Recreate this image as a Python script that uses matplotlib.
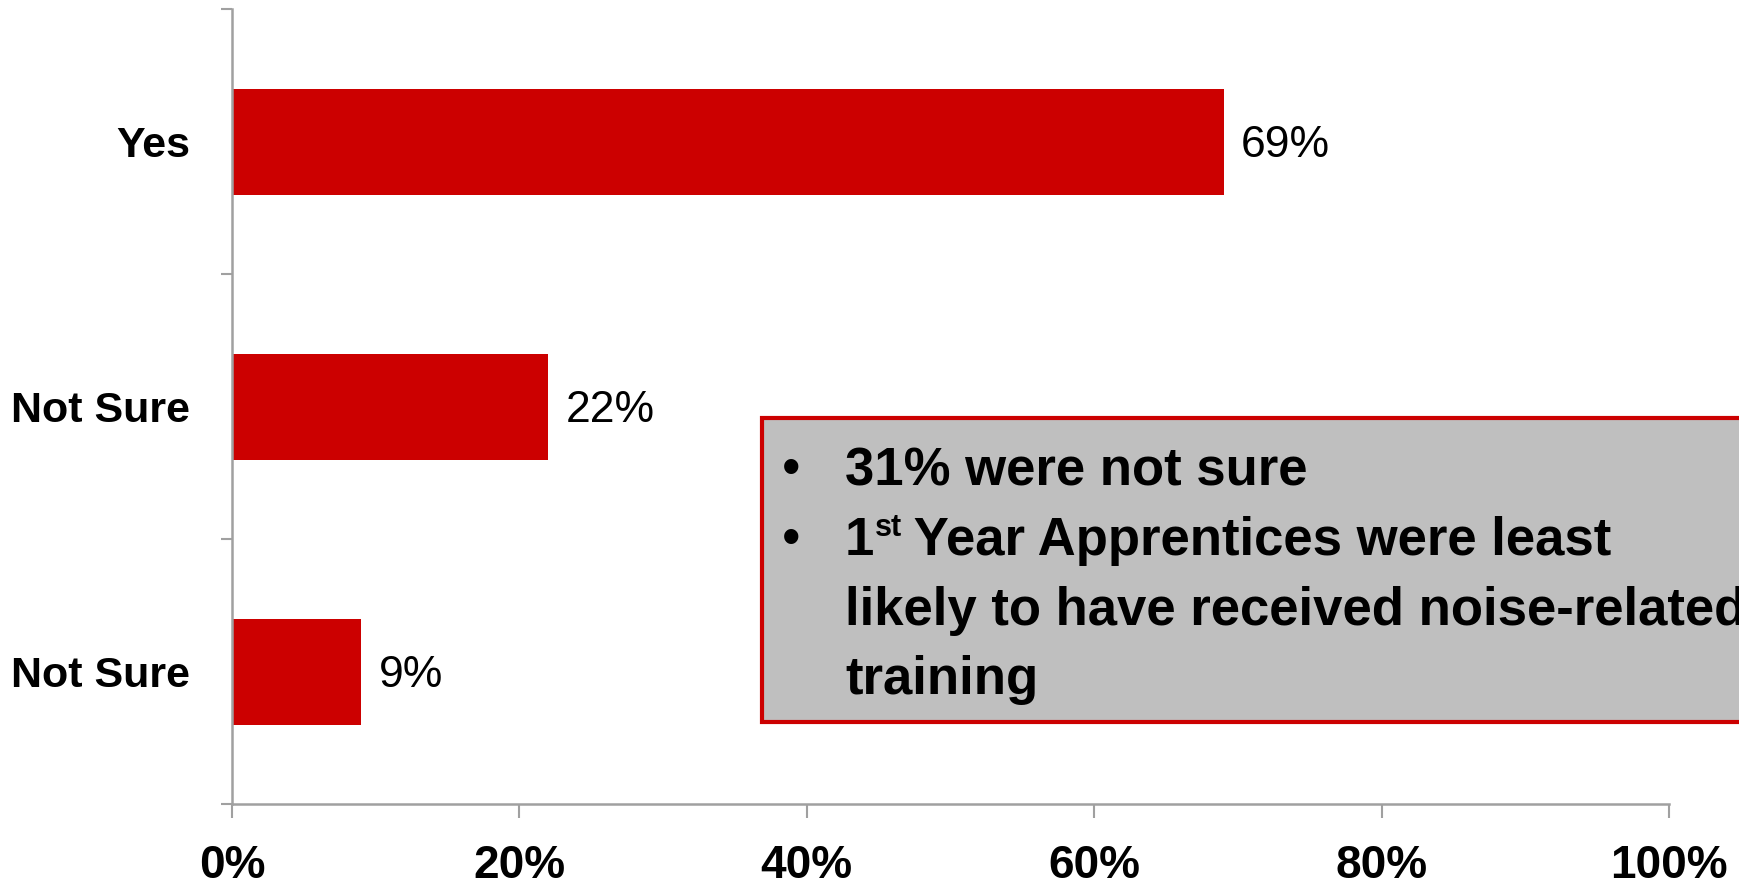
import matplotlib.pyplot as plt
from matplotlib.patches import Rectangle

# survey answers (percent)
answers = ['Yes', 'Not Sure', 'Not Sure']
shares = [69, 22, 9]
xticks = [0, 20, 40, 60, 80, 100]
xtick_labels = ['0%', '20%', '40%', '60%', '80%', '100%']
notes = ['31% were not sure',
         'Year Apprentices were least',
         'likely to have received noise-related',
         'training']

plt.rcParams['font.family'] = ['Liberation Sans', 'DejaVu Sans']

red = '#cc0000'
grey = '#a0a0a0'
W, H = 1739, 882

fig = plt.figure(figsize=(W / 100, H / 100), dpi=100)
ax = fig.add_axes([232 / W, 1 - 804 / H, (1669 - 232) / W, (804 - 9) / H])

pos = list(range(len(answers)))
ax.barh(pos, shares, height=0.4, color=red)
for p, v in zip(pos, shares):
    ax.text(v + 1.2, p + 0.014, f'{v}%', va='center', ha='left', fontsize=32)

ax.set_xlim(0, 100)
ax.set_ylim(2.5, -0.5)
ax.set_xticks(xticks)
ax.set_xticklabels(xtick_labels, fontsize=33, fontweight='bold')
ax.set_yticks([-0.5, 0.5, 1.5, 2.5])
ax.set_yticklabels([])
ax.set_yticks(pos, minor=True)
ax.set_yticklabels(answers, minor=True, fontsize=31, fontweight='bold')
ax.tick_params(axis='y', which='minor', length=0, pad=30)
ax.tick_params(axis='y', which='major', length=8, width=1.5, color=grey)
ax.tick_params(axis='x', length=10, width=1.5, color=grey, pad=19)

for side in ['top', 'right']:
    ax.spines[side].set_visible(False)
for side in ['left', 'bottom']:
    ax.spines[side].set_color(grey)
    ax.spines[side].set_linewidth(1.8)

# grey note box running off the right edge
box = Rectangle((762 / W, 1 - 722 / H), (1800 - 762) / W, (722 - 418) / H,
                transform=fig.transFigure, facecolor='#bfbfbf',
                edgecolor=red, linewidth=3, clip_on=False)
fig.add_artist(box)

fs = 38
x_bullet, x_text = 782 / W, 845 / W
base = [485, 555, 625, 694]
fig.text(x_bullet, 1 - base[0] / H, '•', fontsize=fs, va='baseline')
fig.text(x_bullet, 1 - base[1] / H, '•', fontsize=fs, va='baseline')
fig.text(x_text, 1 - base[0] / H, notes[0], fontsize=fs, fontweight='bold', va='baseline')
one = fig.text(x_text, 1 - base[1] / H, '1', fontsize=fs, fontweight='bold', va='baseline')

# "st" superscript after the 1, then the rest of the line
r = fig.canvas.get_renderer()
e1 = one.get_window_extent(r)
st = fig.text((e1.x1 + 1) / W, 1 - 513 / H, 'st', fontsize=22, fontweight='bold', va='top')
e2 = st.get_window_extent(r)
fig.text((e2.x1 - 2) / W, 1 - base[1] / H, ' ' + notes[1], fontsize=fs,
         fontweight='bold', va='baseline')
fig.text(x_text, 1 - base[2] / H, notes[2], fontsize=fs, fontweight='bold', va='baseline')
fig.text(x_text, 1 - base[3] / H, notes[3], fontsize=fs, fontweight='bold', va='baseline')

fig.savefig('out.png', dpi=100)
